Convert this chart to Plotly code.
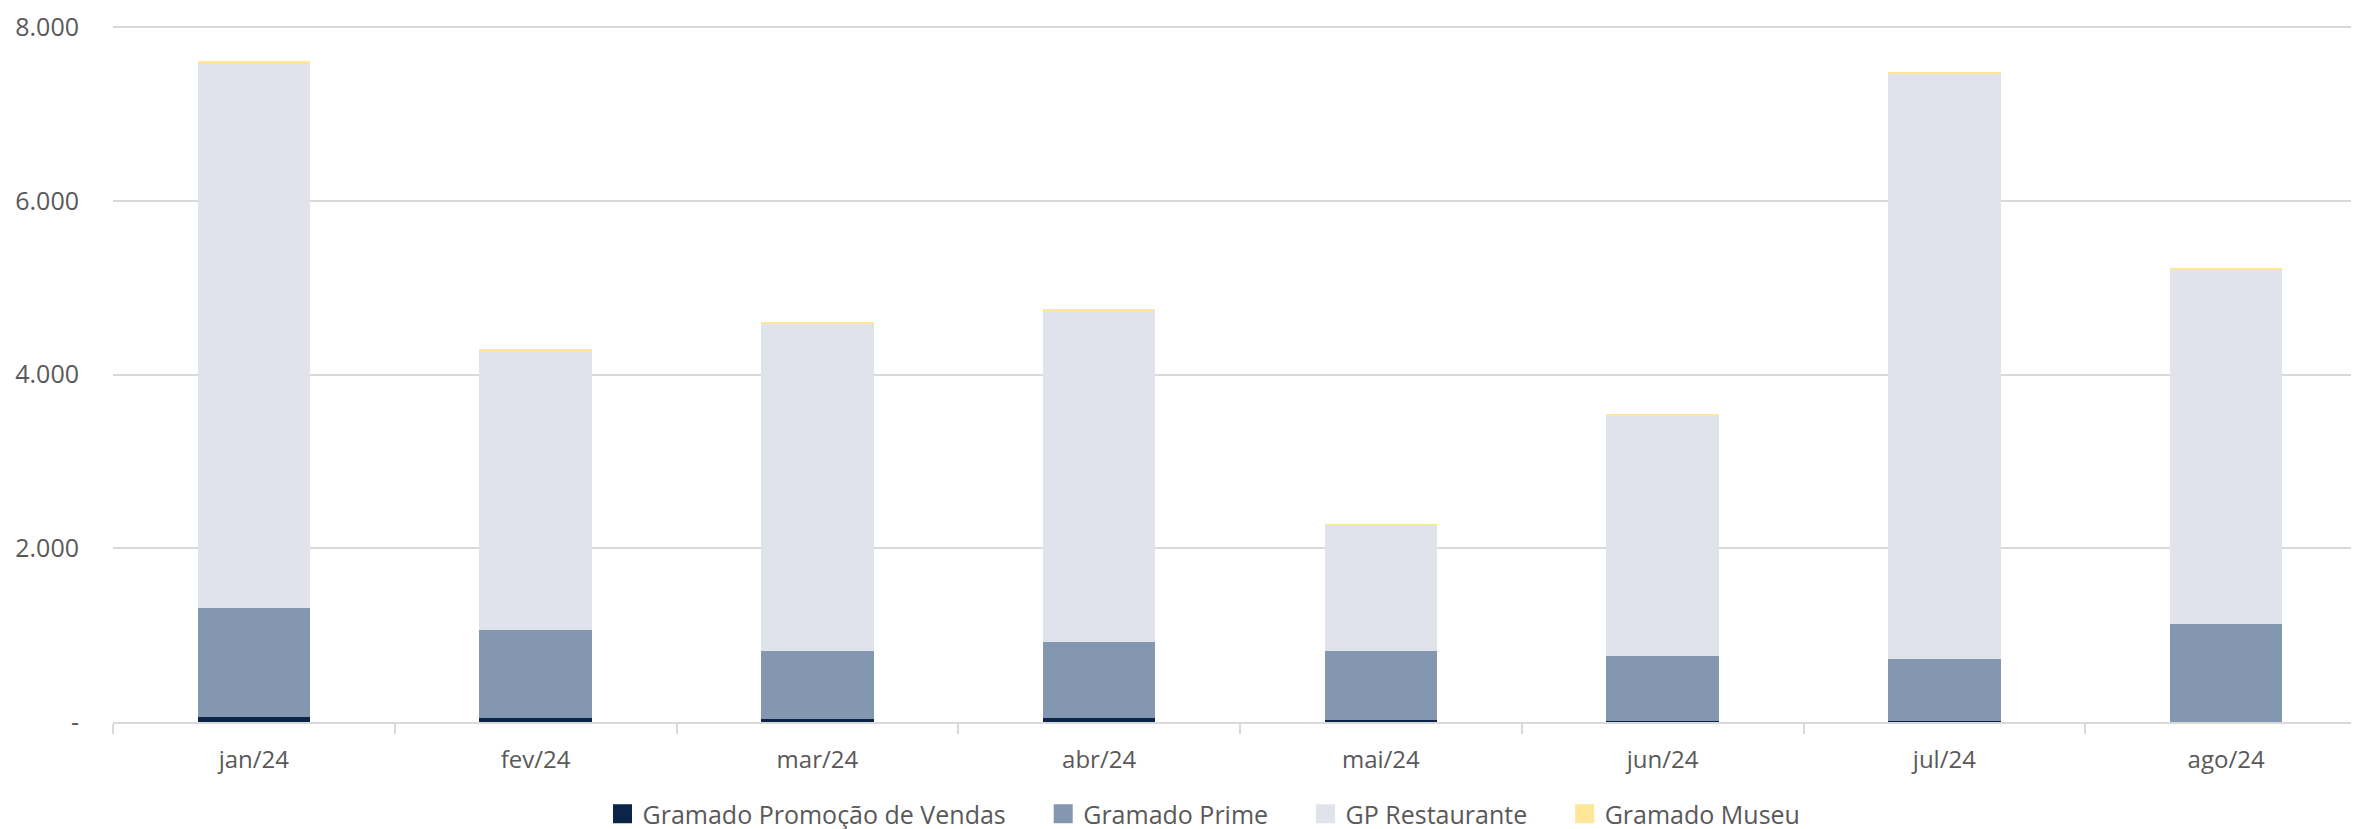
import plotly.graph_objects as go

months = ["jan/24", "fev/24", "mar/24", "abr/24", "mai/24", "jun/24", "jul/24", "ago/24"]
promocao = [55, 45, 35, 45, 20, 10, 10, 5]
prime = [1260, 1010, 780, 873, 794, 752, 717, 1121]
restaurante = [6256, 3224, 3769, 3818, 1454, 2763, 6736, 4086]
museu = [38, 18, 19, 15, 3, 10, 20, 3]

y_tickvals = [0, 2000, 4000, 6000, 8000]
y_ticktext = ["-", "2.000", "4.000", "6.000", "8.000"]

series = [
    ("Gramado Promoção de Vendas", promocao, "#0b2447"),
    ("Gramado Prime", prime, "#8497b0"),
    ("GP Restaurante", restaurante, "#e0e3eb"),
    ("Gramado Museu", museu, "#ffe699"),
]

fig = go.Figure()
for name, vals, color in series:
    fig.add_trace(go.Bar(x=months, y=vals, name=name, showlegend=False,
                         marker=dict(color=color, line=dict(width=0))))
# legend swatches (larger squares)
pad = "\u00a0" * 5
for i, (name, vals, color) in enumerate(series):
    label = name + (pad if i < len(series) - 1 else "")
    fig.add_trace(go.Scatter(x=[None], y=[None], mode="markers", name=label,
                             marker=dict(symbol="square", size=16, color=color,
                                         line=dict(width=3, color=color))))

font_family = "'Open Sans', sans-serif"
fig.update_layout(
    barmode="stack",
    bargap=0.6,
    width=2359, height=829,
    margin=dict(l=105, r=0, t=18, b=115, autoexpand=False),
    paper_bgcolor="white", plot_bgcolor="white",
    font=dict(family=font_family, size=24, color="#595959"),
    showlegend=True,
    legend=dict(orientation="h", xref="container", yref="container", x=0.507, y=0.0,
                xanchor="center", yanchor="bottom", font=dict(size=25, color="#595959"),
                itemsizing="trace", traceorder="normal", itemwidth=30),
    xaxis=dict(showline=True, linecolor="#d9d9d9", linewidth=2, ticks="outside",
               tickson="boundaries", tickcolor="#d9d9d9", ticklen=10, tickwidth=2,
               showgrid=False, ticklabelstandoff=15,
               tickfont=dict(size=24, color="#595959")),
    yaxis=dict(range=[0, 8012], tickvals=y_tickvals, ticktext=y_ticktext,
               showgrid=True, gridcolor="#d9d9d9", gridwidth=1.5, zeroline=False,
               showline=False, ticks="", ticklabelstandoff=33, ticklabeloverflow="allow",
               tickfont=dict(size=25, color="#595959")),
)

fig.write_html("out.html")
